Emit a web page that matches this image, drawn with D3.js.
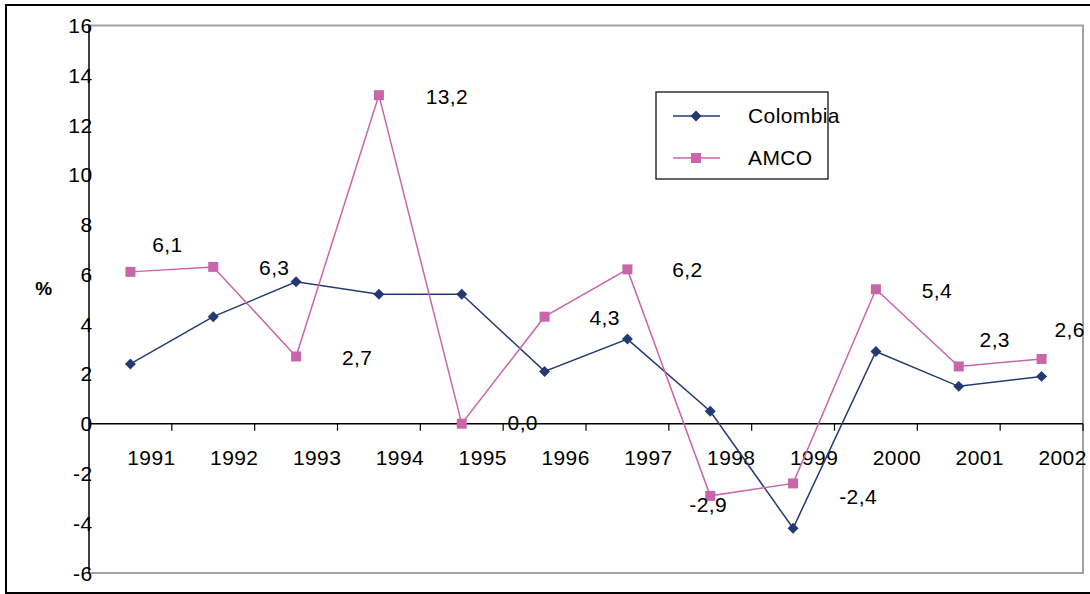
<!DOCTYPE html>
<html>
<head>
<meta charset="utf-8">
<script src="https://cdn.jsdelivr.net/npm/d3@7"></script>
<style>
  body { margin: 0; background: #fff; }
  svg { display: block; }
  text { font-family: "Liberation Sans", Arial, Helvetica, sans-serif; fill: #000; letter-spacing: 0.4px; }
</style>
</head>
<body>
<svg id="chart" width="1090" height="594"></svg>
<script>
// Annual growth, %
const years = ["1991","1992","1993","1994","1995","1996","1997","1998","1999","2000","2001","2002"];
const colombia = [2.4, 4.3, 5.7, 5.2, 5.2, 2.1, 3.4, 0.5, -4.2, 2.9, 1.5, 1.9];
const amco = [6.1, 6.3, 2.7, 13.2, 0.0, 4.3, 6.2, -2.9, -2.4, 5.4, 2.3, 2.6];
const yTicks = [-6, -4, -2, 0, 2, 4, 6, 8, 10, 12, 14, 16];
const seriesNames = ["Colombia", "AMCO"];

// placement of the AMCO value labels relative to their points [dx, baseline dy]
const labelOffsets = [[37,-20],[61,8],[61,9],[68,9],[61,6],[60,8],[60,8],[-2,16],[65,21],[61,9],[36,-19],[28,-22]];

const colors = { Colombia: "#233a72", AMCO: "#c966a9" };
const fs = 21;

const svg = d3.select("#chart");

// outer frame
svg.append("rect")
  .attr("x", 6).attr("y", 5).attr("width", 1100).attr("height", 588)
  .attr("fill", "none").attr("stroke", "#000").attr("stroke-width", 2);

const plotL = 89, plotR = 1083, plotT = 25.5, plotB = 573;

const x = d3.scaleBand().domain(years).range([plotL, plotR]).paddingInner(0).paddingOuter(0);
const y = d3.scaleLinear().domain([-6, 16]).range([plotB, plotT]);
const cx = d => x(d) + x.bandwidth() / 2;

// plot area border (grey)
svg.append("path")
  .attr("d", `M${plotL},${y(16)}H${plotR}V${y(-6)}H${plotL}`)
  .attr("fill", "none").attr("stroke", "#a3a3a3").attr("stroke-width", 2);

// value axis
svg.append("line")
  .attr("x1", plotL).attr("x2", plotL).attr("y1", y(16)).attr("y2", y(-6))
  .attr("stroke", "#000").attr("stroke-width", 1.5);

svg.append("g").selectAll("text")
  .data(yTicks).join("text")
  .attr("x", plotL + 3.5).attr("y", d => y(d))
  .attr("dy", "0.36em")
  .attr("text-anchor", "end")
  .attr("font-size", fs)
  .text(d => d);

// category axis along zero
svg.append("line")
  .attr("x1", plotL).attr("x2", plotR).attr("y1", y(0)).attr("y2", y(0))
  .attr("stroke", "#000").attr("stroke-width", 1.5);

svg.append("g").selectAll("line")
  .data(years).join("line")
  .attr("x1", d => x(d) + x.bandwidth()).attr("x2", d => x(d) + x.bandwidth())
  .attr("y1", y(0)).attr("y2", y(0) + 7)
  .attr("stroke", "#000").attr("stroke-width", 1.2);

svg.append("g").selectAll("text")
  .data(years).join("text")
  .attr("x", d => cx(d) + 21).attr("y", y(0) + 41)
  .attr("text-anchor", "middle")
  .attr("font-size", fs)
  .text(d => d);

// axis title
svg.append("text")
  .attr("x", 44).attr("y", 295)
  .attr("text-anchor", "middle")
  .attr("font-size", 19)
  .attr("font-weight", "bold")
  .text("%");

// series
const line = d3.line().x(d => cx(d.year)).y(d => y(d.value));
const toPts = vals => years.map((yr, i) => ({ year: yr, value: vals[i] }));

const colPts = toPts(colombia);
const amcoPts = toPts(amco);

svg.append("path").datum(colPts)
  .attr("d", line).attr("fill", "none")
  .attr("stroke", colors.Colombia).attr("stroke-width", 1.5);

svg.append("path").datum(amcoPts)
  .attr("d", line).attr("fill", "none")
  .attr("stroke", colors.AMCO).attr("stroke-width", 1.5);

svg.append("g").selectAll("path")
  .data(colPts).join("path")
  .attr("d", d3.symbol().type(d3.symbolSquare).size(60))
  .attr("transform", d => `translate(${cx(d.year)},${y(d.value)}) rotate(45)`)
  .attr("fill", colors.Colombia);

svg.append("g").selectAll("rect")
  .data(amcoPts).join("rect")
  .attr("x", d => cx(d.year) - 5).attr("y", d => y(d.value) - 5)
  .attr("width", 10).attr("height", 10)
  .attr("fill", colors.AMCO);

// value labels for AMCO
svg.append("g").selectAll("text")
  .data(amcoPts).join("text")
  .attr("x", (d, i) => cx(d.year) + labelOffsets[i][0])
  .attr("y", (d, i) => y(d.value) + labelOffsets[i][1])
  .attr("text-anchor", "middle")
  .attr("font-size", fs)
  .text(d => d3.format(".1f")(d.value).replace(".", ",").replace("−", "-"));

// legend
const lg = svg.append("g");
lg.append("rect")
  .attr("x", 656).attr("y", 92).attr("width", 172).attr("height", 87)
  .attr("fill", "#fff").attr("stroke", "#000").attr("stroke-width", 1.2);

seriesNames.forEach((name, i) => {
  const ly = 116 + i * 42;
  lg.append("line")
    .attr("x1", 673).attr("x2", 720).attr("y1", ly).attr("y2", ly)
    .attr("stroke", colors[name]).attr("stroke-width", 1.5);
  if (name === "Colombia") {
    lg.append("path")
      .attr("d", d3.symbol().type(d3.symbolSquare).size(60))
      .attr("transform", `translate(696,${ly}) rotate(45)`)
      .attr("fill", colors[name]);
  } else {
    lg.append("rect")
      .attr("x", 691).attr("y", ly - 5).attr("width", 10).attr("height", 10)
      .attr("fill", colors[name]);
  }
  lg.append("text")
    .attr("x", 748).attr("y", ly + 6.5)
    .attr("font-size", fs)
    .text(name);
});
</script>
</body>
</html>
